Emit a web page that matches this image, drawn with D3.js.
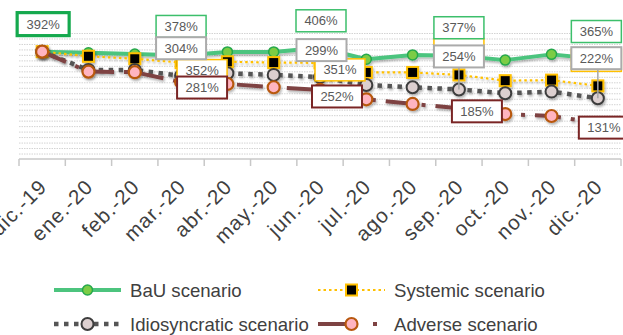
<!DOCTYPE html>
<html>
<head>
<meta charset="utf-8">
<script src="https://cdn.jsdelivr.net/npm/d3@7"></script>
<style>
  html, body { margin: 0; padding: 0; background: #ffffff; }
  svg { display: block; font-family: "Liberation Sans", Arial, sans-serif; }
</style>
</head>
<body>
<svg id="chart" width="623" height="335"></svg>
<script>
// Monthly categories on the x axis
const months = ["dic.-19", "ene.-20", "feb.-20", "mar.-20", "abr.-20", "may.-20", "jun.-20",
                "jul.-20", "ago.-20", "sep.-20", "oct.-20", "nov.-20", "dic.-20"];

// Ratio (%) per scenario
const bauValues           = [392, 388, 383, 378, 391, 391, 406, 364, 380, 377, 361, 382, 365];
const systemicValues      = [392, 375, 366, 352, 355, 352, 351, 316, 316, 307, 286, 288, 267];
const idiosyncraticValues = [392, 325, 325, 304, 313, 307, 299, 270, 262, 254, 240, 246, 222];
const adverseValues       = [392, 319, 317, 281, 274, 262, 252, 218, 201, 185, 164, 157, 131];
const minimumValues       = [105, 105, 105, 105, 105, 105, 105, 105, 105, 105, 105, 105, 105];

// Gridline values (%)
const gridValues = d3.range(20, 461, 20);

// Months that carry a value label (quarter ends)
const bauLabelMonths      = ["dic.-19", "mar.-20", "jun.-20", "sep.-20", "dic.-20"];
const quarterLabelMonths  = ["mar.-20", "jun.-20", "sep.-20", "dic.-20"];

const legendNames = ["BaU scenario", "Systemic scenario", "Idiosyncratic scenario", "Adverse scenario"];

// ---- layout ----
const svg = d3.select("#chart");
const plot = { left: 19, right: 621, top: 33, bottom: 159 };

const x = d3.scaleBand().domain(months).range([plot.left, plot.right]).padding(0);
const cx = m => x(m) + x.bandwidth() / 2;
const y = d3.scaleLinear().domain([0, 460]).range([plot.bottom, plot.top]);

// Soft drop shadow used by lines and markers
const defs = svg.append("defs");
const shadow = defs.append("filter").attr("id", "shadow")
  .attr("x", "-20%").attr("y", "-50%").attr("width", "140%").attr("height", "200%");
shadow.append("feDropShadow").attr("dx", 1.2).attr("dy", 2).attr("stdDeviation", 1.1)
  .attr("flood-color", "#000").attr("flood-opacity", 0.28);

// Horizontal gridlines
svg.append("g")
  .attr("transform", `translate(${plot.left},0)`)
  .call(d3.axisLeft(y).tickValues(gridValues).tickSize(-(plot.right - plot.left)).tickFormat(""))
  .call(g => g.select(".domain").remove())
  .call(g => g.selectAll("line").attr("stroke", "#d3d3d3").attr("stroke-width", 1)
    .attr("stroke-dasharray", "1.5,1"));

// X axis: labels at category centres, ticks on category boundaries
const xAxis = svg.append("g")
  .attr("transform", `translate(0,${plot.bottom})`)
  .call(d3.axisBottom(x).tickSize(0).tickPadding(0));
xAxis.select(".domain").remove();
xAxis.selectAll("text")
  .attr("font-size", 20.5)
  .attr("letter-spacing", "1.1px")
  .attr("fill", "#404040")
  .attr("text-anchor", "end")
  .attr("dy", 0)
  .attr("y", 0)
  .attr("transform", "translate(6,29) rotate(-45)");

svg.append("line")
  .attr("x1", plot.left).attr("x2", plot.right)
  .attr("y1", plot.bottom).attr("y2", plot.bottom)
  .attr("stroke", "#c8c8c8").attr("stroke-width", 1.5);
const boundaries = months.map(m => x(m)).concat([x(months[months.length - 1]) + x.bandwidth()]);
svg.append("g").selectAll("line").data(boundaries).join("line")
  .attr("x1", d => d).attr("x2", d => d)
  .attr("y1", plot.bottom).attr("y2", plot.bottom + 7)
  .attr("stroke", "#c8c8c8").attr("stroke-width", 1.5);

// ---- series ----
const line = d3.line().x((d, i) => cx(months[i])).y(d => y(d));

const series = [
  { key: "bau", values: bauValues, stroke: "#4cc47e", width: 4, dash: null,
    marker: "circle", r: 5, fill: "#7ccc45", mstroke: "#25a84c", mwidth: 1.5 },
  { key: "systemic", values: systemicValues, stroke: "#ffc000", width: 2.2, dash: "2.5,3",
    marker: "square", size: 11, fill: "#000000", mstroke: "#ffc000", mwidth: 2 },
  { key: "idio", values: idiosyncraticValues, stroke: "#555555", width: 4.5, dash: "4.5,5.5",
    marker: "circle", r: 6, fill: "#dccfcf", mstroke: "#3d3d3d", mwidth: 2 },
  { key: "adverse", values: adverseValues, stroke: "#7e4343", width: 4, dash: "26,10,4,10",
    marker: "circle", r: 6, fill: "#ffb4c0", mstroke: "#b8580f", mwidth: 2.2 }
];

// Minimum level reference line
svg.append("path")
  .datum(minimumValues)
  .attr("d", line)
  .attr("fill", "none")
  .attr("stroke", "#d24141").attr("stroke-width", 4.5)
  .attr("stroke-dasharray", "4.5,5.8")
  .attr("filter", "url(#shadow)");

series.forEach(s => {
  const g = svg.append("g").attr("filter", "url(#shadow)");
  g.append("path").datum(s.values)
    .attr("d", line)
    .attr("fill", "none")
    .attr("stroke", s.stroke)
    .attr("stroke-width", s.width)
    .attr("stroke-dasharray", s.dash)
    .attr("stroke-linejoin", "round");
  if (s.marker === "circle") {
    g.selectAll("circle").data(s.values).join("circle")
      .attr("cx", (d, i) => cx(months[i])).attr("cy", d => y(d))
      .attr("r", s.r).attr("fill", s.fill)
      .attr("stroke", s.mstroke).attr("stroke-width", s.mwidth);
  } else {
    g.selectAll("rect").data(s.values).join("rect")
      .attr("x", (d, i) => cx(months[i]) - s.size / 2).attr("y", d => y(d) - s.size / 2)
      .attr("width", s.size).attr("height", s.size)
      .attr("fill", s.fill).attr("stroke", s.mstroke).attr("stroke-width", s.mwidth);
  }
});

// ---- value labels ----
// Placement of each label box relative to its point (pixels); "covered" boxes sit
// underneath other labels, so only their frame edge shows.
const labelPlacement = {
  systemic: { "mar.-20": [21, 8], "jun.-20": [20, 7], "sep.-20": [0, -25.5, "covered"], "dic.-20": [-1.5, -25.5, "covered"] },
  bau:      { "dic.-19": [1, -27.5], "mar.-20": [0, -29], "jun.-20": [1, -27], "sep.-20": [0, -28], "dic.-20": [-1.5, -27.5] },
  idio:     { "mar.-20": [0, -27.5], "jun.-20": [1.5, -27], "sep.-20": [0, -33], "dic.-20": [-1.5, -40] },
  adverse:  { "mar.-20": [21, 5.5], "jun.-20": [17, 6.5], "sep.-20": [18, 3], "dic.-20": [6, 4.5] }
};
const labelStyle = {
  systemic: { border: "#ffc000", width: 1.5 },
  bau:      { border: "#3cbf6b", width: 1.5 },
  idio:     { border: "#ababab", width: 2 },
  adverse:  { border: "#7a2525", width: 2 }
};
const labelSets = [
  { key: "systemic", values: systemicValues, months: quarterLabelMonths },
  { key: "bau", values: bauValues, months: bauLabelMonths },
  { key: "idio", values: idiosyncraticValues, months: quarterLabelMonths },
  { key: "adverse", values: adverseValues, months: quarterLabelMonths }
];

const labelLayer = svg.append("g");
labelSets.forEach(set => {
  set.months.forEach(m => {
    const i = months.indexOf(m);
    const v = set.values[i];
    const [dx, dy, mode] = labelPlacement[set.key][m];
    const px = cx(m), py = y(v);
    const bx = px + dx, by = py + dy;
    const first = set.key === "bau" && i === 0;
    const w = first ? 52 : 50, h = first ? 23 : 22;
    const g = labelLayer.append("g");
    if (dy < -30) {
      g.append("line")
        .attr("x1", px).attr("x2", px)
        .attr("y1", by + h / 2).attr("y2", py)
        .attr("stroke", "#a6a6a6").attr("stroke-width", 1.5);
    }
    g.append("rect")
      .attr("x", bx - w / 2).attr("y", by - h / 2)
      .attr("width", w).attr("height", h)
      .attr("fill", "#ffffff")
      .attr("stroke", first ? "#15a94e" : labelStyle[set.key].border)
      .attr("stroke-width", first ? 3.2 : labelStyle[set.key].width);
    if (mode !== "covered") {
      g.append("text")
        .attr("x", bx).attr("y", by)
        .attr("text-anchor", "middle")
        .attr("dominant-baseline", "central")
        .attr("font-size", 13)
        .attr("fill", "#595959")
        .text(d3.format(".0f")(v) + "%");
    }
  });
});

// ---- legend ----
const legend = svg.append("g").attr("font-size", 18.6).attr("fill", "#404040");
const legendPos = [[54, 290], [318, 290], [54, 324], [318, 324]];
series.forEach((s, k) => {
  const [lx, ly] = legendPos[k];
  const g = legend.append("g").attr("transform", `translate(${lx},${ly})`);
  g.append("line").attr("x1", 0).attr("x2", 67).attr("y1", 0).attr("y2", 0)
    .attr("stroke", s.stroke).attr("stroke-width", s.width)
    .attr("stroke-dasharray", s.key === "adverse" ? "28,27,4,30" : s.dash);
  if (s.marker === "circle") {
    g.append("circle").attr("cx", 33.5).attr("cy", 0).attr("r", s.r)
      .attr("fill", s.fill).attr("stroke", s.mstroke).attr("stroke-width", s.mwidth);
  } else {
    g.append("rect").attr("x", 33.5 - s.size / 2).attr("y", -s.size / 2)
      .attr("width", s.size).attr("height", s.size)
      .attr("fill", s.fill).attr("stroke", s.mstroke).attr("stroke-width", s.mwidth);
  }
  g.append("text").attr("x", 76).attr("y", 0).attr("dominant-baseline", "central")
    .text(legendNames[k]);
});
</script>
</body>
</html>
